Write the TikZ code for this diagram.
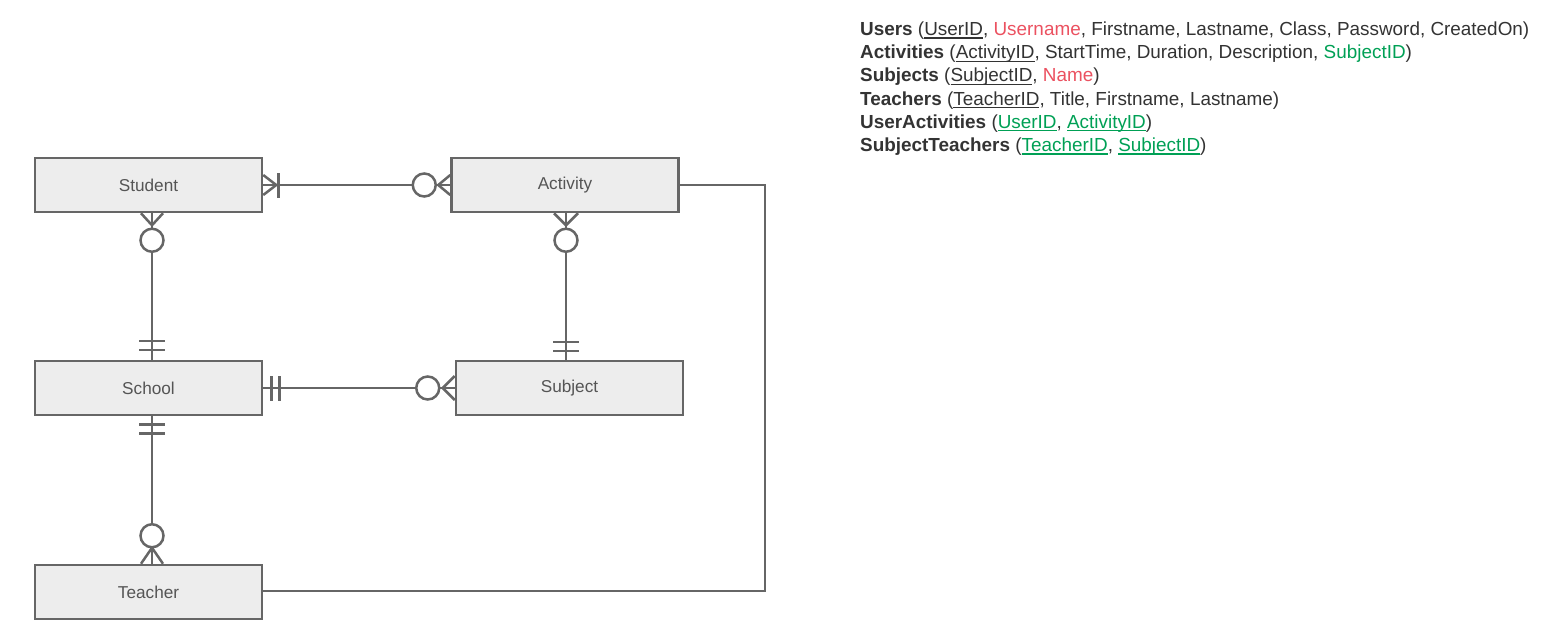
\documentclass[tikz,border=0pt]{standalone}
\usepackage{fontspec}
\setmainfont{Liberation Sans}
\usetikzlibrary{positioning,calc}
\definecolor{boxfill}{HTML}{EDEDED}
\definecolor{boxline}{HTML}{666666}
\definecolor{labeltext}{HTML}{555555}
\definecolor{schematext}{HTML}{333333}
\definecolor{uniquered}{HTML}{EB5160}
\definecolor{fkgreen}{HTML}{00A055}
\newcommand{\keyfield}[1]{\setbox0\hbox{#1}\rlap{\rule[-3pt]{\wd0}{1.2pt}}\box0}

\begin{document}
\begin{tikzpicture}[x=1pt,y=-1pt,
  entity/.style={draw=boxline,fill=boxfill,line width=2.5pt,minimum width=227pt,
    minimum height=54pt,inner sep=0pt,font=\fontsize{17.2}{19}\selectfont,text=labeltext},
  link/.style={draw=boxline,line width=2.5pt},
  ring/.style={draw=boxline,fill=white,line width=2.5pt},
  schema/.style={anchor=base west,inner sep=0pt,text=schematext,font=\fontsize{18.9}{21}\selectfont}]
  \useasboundingbox (0,0) rectangle (1547,643);
  % entities
  \node[entity] (student) at (148.5,185) {Student};
  \node[entity] (activity) at (565,185) {Activity};
  \node[entity] (school) at (148.5,388) {School};
  \node[entity] (subject) at (569.5,388) {Subject};
  \node[entity] (teacher) at (148.5,592) {Teacher};

  % Student -- Activity
  \draw[link] (student.east) -- (activity.west);
  \draw[link] ($(student.east)+(0,-10)$) -- ++(13,10) -- ++(-13,10);
  \draw[link] ($(student.east)+(15,-12)$) -- ++(0,25);
  \draw[link] ($(activity.west)+(0,-10)$) -- ++(-12,10) -- ++(12,10);
  \draw[ring] ($(activity.west)+(-26,0)$) circle (11.5);

  % Student -- School
  \coordinate (stu-s) at ($(student.south)+(3.5,0)$);
  \coordinate (sch-n) at ($(school.north)+(3.5,0)$);
  \draw[link] (stu-s) -- (sch-n);
  \draw[link] ($(stu-s)+(-11,0)$) -- ++(11,12) -- ++(11,-12);
  \draw[ring] ($(stu-s)+(0,27)$) circle (11.5);
  \draw[link] ($(sch-n)+(-13,-19)$) -- ++(26,0);
  \draw[link] ($(sch-n)+(-13,-10)$) -- ++(26,0);

  % Activity -- Subject
  \coordinate (act-s) at ($(activity.south)+(1,0)$);
  \coordinate (sub-n) at ($(subject.north)+(-3.5,0)$);
  \draw[link] (act-s) -- (sub-n);
  \draw[link] ($(act-s)+(-12,0)$) -- ++(12,12) -- ++(12,-12);
  \draw[ring] ($(act-s)+(0,27)$) circle (11.5);
  \draw[link] ($(sub-n)+(-13,-18)$) -- ++(26,0);
  \draw[link] ($(sub-n)+(-13,-9)$) -- ++(26,0);

  % School -- Subject
  \draw[link] (school.east) -- (subject.west);
  \draw[link] ($(school.east)+(8,-12)$) -- ++(0,25);
  \draw[link] ($(school.east)+(16,-12)$) -- ++(0,25);
  \draw[link] ($(subject.west)+(0,-12)$) -- ++(-12,12) -- ++(12,12);
  \draw[ring] ($(subject.west)+(-27,0)$) circle (11.5);

  % School -- Teacher
  \coordinate (sch-s) at ($(school.south)+(3.5,0)$);
  \coordinate (tea-n) at ($(teacher.north)+(3.5,0)$);
  \draw[link] (sch-s) -- (tea-n);
  \draw[link] ($(sch-s)+(-13,8)$) -- ++(26,0);
  \draw[link] ($(sch-s)+(-13,17)$) -- ++(26,0);
  \draw[link] ($(tea-n)+(-11,0)$) -- ++(11,-16) -- ++(11,16);
  \draw[ring] ($(tea-n)+(0,-28)$) circle (11.5);

  % Activity -- Teacher
  \draw[link] (activity.east) -- ++(85,0) |- ($(teacher.east)+(0,-1)$);

  % relational schema
  \node[schema] (users) at (860,35.5) {\textbf{Users} (\keyfield{UserID}, \textcolor{uniquered}{Username}, Firstname, Lastname, Class, Password, CreatedOn)};
  \node[schema] (activities) at (860,58.7) {\textbf{Activities} (\keyfield{ActivityID}, StartTime, Duration, Description, \textcolor{fkgreen}{SubjectID})};
  \node[schema] (subjects) at (860,81.9) {\textbf{Subjects} (\keyfield{SubjectID}, \textcolor{uniquered}{Name})};
  \node[schema] (teachers) at (860,105.1) {\textbf{Teachers} (\keyfield{TeacherID}, Title, Firstname, Lastname)};
  \node[schema] (useracts) at (860,128.3) {\textbf{UserActivities} ({\color{fkgreen}\keyfield{UserID}}, {\color{fkgreen}\keyfield{ActivityID}})};
  \node[schema] (subjteachers) at (860,151.5) {\textbf{SubjectTeachers} ({\color{fkgreen}\keyfield{TeacherID}}, {\color{fkgreen}\keyfield{SubjectID}})};
\end{tikzpicture}
\end{document}
